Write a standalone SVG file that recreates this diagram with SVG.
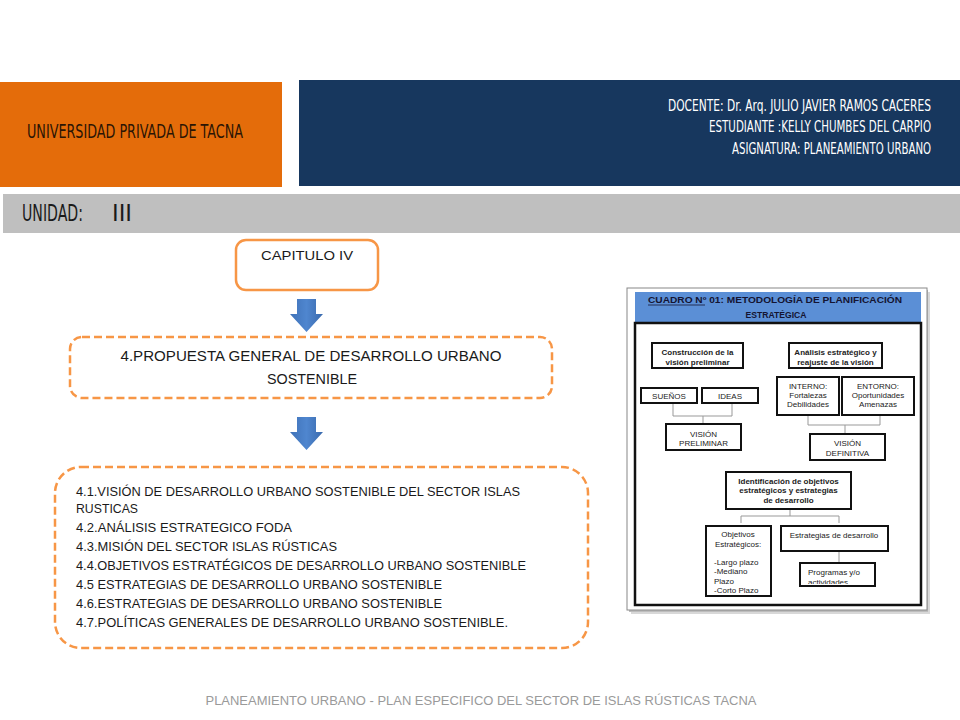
<svg xmlns="http://www.w3.org/2000/svg" width="960" height="720" viewBox="0 0 960 720">
<defs>
<linearGradient id="ag" x1="0" y1="0" x2="1" y2="0">
<stop offset="0" stop-color="#3f72b8"/><stop offset="0.5" stop-color="#4f86cf"/><stop offset="1" stop-color="#3a6aad"/>
</linearGradient>
<clipPath id="pc"><rect x="800" y="563" width="76" height="21"/></clipPath>
<style>
.cond{font-family:"DejaVu Sans Condensed","Liberation Sans Narrow","DejaVu Sans",sans-serif;font-stretch:condensed}
.cal{font-family:"Liberation Sans","Open Sans",sans-serif;fill:#1a1a1a}
.dash{fill:#fff;stroke:#F79646;stroke-width:2.5;stroke-dasharray:8 4}
.q{fill:#fff;stroke:#111;stroke-width:2}
.qt{font-family:"Liberation Sans",Arial,sans-serif;font-size:8px;fill:#222;text-anchor:middle}
.ql{font-family:"Liberation Sans",Arial,sans-serif;font-size:8px;fill:#222;text-anchor:start}
.qh{font-family:"Liberation Sans",Arial,sans-serif;font-size:8.6px;font-weight:bold;fill:#141432;text-anchor:middle}
.qb{font-weight:bold}
.br{fill:none;stroke:#999;stroke-width:1}
.arrow{fill:url(#ag)}
</style>
</defs>
<rect width="960" height="720" fill="#fff"/>

<g id="header">
<rect x="0" y="82" width="282" height="105" fill="#E46C0A"/>
<text class="cond" x="27" y="138" font-size="19" fill="#2b1505" textLength="216" lengthAdjust="spacingAndGlyphs">UNIVERSIDAD  PRIVADA  DE TACNA</text>
<rect x="299" y="80" width="661" height="106" fill="#17375E"/>
<g class="cond" fill="#fff" font-size="15">
<text x="668" y="111" textLength="263" lengthAdjust="spacingAndGlyphs">DOCENTE:  Dr.  Arq. JULIO  JAVIER  RAMOS  CACERES</text>
<text x="709" y="132" textLength="222" lengthAdjust="spacingAndGlyphs">ESTUDIANTE  :KELLY CHUMBES  DEL  CARPIO</text>
<text x="732" y="154" textLength="199" lengthAdjust="spacingAndGlyphs">ASIGNATURA:  PLANEAMIENTO  URBANO</text>
</g>
<rect x="3" y="194" width="957" height="39" fill="#BFBFBF"/>
<text class="cond" x="22" y="221" font-size="23" fill="#1a1a1a"><tspan textLength="61" lengthAdjust="spacingAndGlyphs">UNIDAD:</tspan><tspan x="112" textLength="20" lengthAdjust="spacingAndGlyphs" font-weight="300">III</tspan></text>
</g>

<g id="connectors">
<polygon class="arrow" points="297,299 316,299 316,314 323,314 306.5,332 290,314 297,314"/>
<polygon class="arrow" points="297,417 316,417 316,432 323,432 306.5,450 290,432 297,432"/>
</g>

<g id="capitulo">
<rect x="236" y="240" width="142" height="50" rx="10" fill="#fff" stroke="#F79646" stroke-width="2.5"/>
<text class="cal" x="307" y="260" font-size="12" text-anchor="middle" textLength="92" lengthAdjust="spacingAndGlyphs">CAPITULO IV</text>
</g>

<g id="propuesta">
<rect class="dash" x="70" y="337" width="482" height="61" rx="12"/>
<text class="cal" x="311" y="361" font-size="15" text-anchor="middle" textLength="381" lengthAdjust="spacingAndGlyphs">4.PROPUESTA GENERAL DE DESARROLLO URBANO</text>
<text class="cal" x="312" y="384" font-size="15" text-anchor="middle" textLength="90" lengthAdjust="spacingAndGlyphs">SOSTENIBLE</text>
</g>

<g id="contenido">
<rect class="dash" x="55" y="467" width="533" height="181" rx="26"/>
<g class="cal" font-size="13.5">
<text x="76" y="496" textLength="444" lengthAdjust="spacingAndGlyphs">4.1.VISIÓN DE DESARROLLO URBANO SOSTENIBLE DEL SECTOR ISLAS</text>
<text x="76" y="513" textLength="62" lengthAdjust="spacingAndGlyphs">RUSTICAS</text>
<text x="76" y="532" textLength="216" lengthAdjust="spacingAndGlyphs">4.2.ANÁLISIS ESTRATEGICO FODA</text>
<text x="76" y="551" textLength="261" lengthAdjust="spacingAndGlyphs">4.3.MISIÓN DEL SECTOR ISLAS RÚSTICAS</text>
<text x="76" y="570" textLength="450" lengthAdjust="spacingAndGlyphs">4.4.OBJETIVOS ESTRATÉGICOS DE DESARROLLO URBANO SOSTENIBLE</text>
<text x="76" y="589" textLength="366" lengthAdjust="spacingAndGlyphs">4.5 ESTRATEGIAS DE DESARROLLO URBANO SOSTENIBLE</text>
<text x="76" y="608" textLength="366" lengthAdjust="spacingAndGlyphs">4.6.ESTRATEGIAS DE DESARROLLO URBANO SOSTENIBLE</text>
<text x="76" y="627" textLength="432" lengthAdjust="spacingAndGlyphs">4.7.POLÍTICAS GENERALES DE DESARROLLO URBANO SOSTENIBLE.</text>
</g>
</g>

<g id="cuadro">
<rect x="631" y="292" width="299" height="322" fill="#d8d8d8"/>
<rect x="629" y="290" width="299" height="322" fill="#bdbdbd"/>
<rect x="627" y="288" width="300" height="322" fill="#fff" stroke="#888" stroke-width="1"/>
<rect x="635" y="292" width="286" height="31" fill="#5B8FD6"/>
<text class="qh" x="775" y="303" textLength="254" lengthAdjust="spacingAndGlyphs">CUADRO Nº 01: METODOLOGÍA DE PLANIFICACIÓN</text>
<line x1="648" y1="305" x2="705" y2="305" stroke="#141432" stroke-width="0.8"/>
<text class="qh" x="776" y="318">ESTRATÉGICA</text>
<rect x="635" y="323" width="286" height="282" fill="#fff" stroke="#111" stroke-width="2.5"/>

<path class="br" d="M673 403V416H732V403M703 416V424"/>
<path class="br" d="M808 415V425H880V415M845 425V434"/>
<path class="br" d="M790 509V516M741 523V516H839V523"/>
<path class="br" d="M839 551V563"/>

<rect class="q" x="652" y="343" width="91" height="25"/>
<text class="qt qb" x="697.5" y="355">Construcción de la</text>
<text class="qt qb" x="697.5" y="365">visión preliminar</text>

<rect class="q" x="789" y="343" width="93" height="25"/>
<text class="qt qb" x="835.5" y="355">Análisis estratégico y</text>
<text class="qt qb" x="835.5" y="365">reajuste de la visión</text>

<rect class="q" x="641" y="388" width="56" height="15"/>
<text class="qt" x="669" y="398.5">SUEÑOS</text>
<rect class="q" x="702" y="388" width="56" height="15"/>
<text class="qt" x="730" y="398.5">IDEAS</text>

<rect class="q" x="666" y="424" width="75" height="26"/>
<text class="qt" x="703.5" y="437">VISIÓN</text>
<text class="qt" x="703.5" y="446">PRELIMINAR</text>

<rect class="q" x="777" y="377" width="62" height="38"/>
<text class="qt" x="808" y="389">INTERNO:</text>
<text class="qt" x="808" y="398">Fortalezas</text>
<text class="qt" x="808" y="407">Debilidades</text>

<rect class="q" x="842" y="377" width="72" height="38"/>
<text class="qt" x="878" y="389">ENTORNO:</text>
<text class="qt" x="878" y="398">Oportunidades</text>
<text class="qt" x="878" y="407">Amenazas</text>

<rect class="q" x="810" y="434" width="75" height="26"/>
<text class="qt" x="847.5" y="446">VISIÓN</text>
<text class="qt" x="847.5" y="456">DEFINITIVA</text>

<rect class="q" x="726" y="472" width="125" height="37"/>
<text class="qt qb" x="788.5" y="484">Identificación de objetivos</text>
<text class="qt qb" x="788.5" y="493">estratégicos y estrategias</text>
<text class="qt qb" x="788.5" y="503">de desarrollo</text>

<rect class="q" x="706" y="526" width="65" height="70"/>
<text class="qt" x="738" y="537">Objetivos</text>
<text class="qt" x="738" y="547">Estratégicos:</text>
<text class="ql" x="714" y="565">-Largo plazo</text>
<text class="ql" x="714" y="574">-Mediano</text>
<text class="ql" x="714" y="584">Plazo</text>
<text class="ql" x="714" y="593">-Corto Plazo</text>

<rect class="q" x="781" y="526" width="107" height="25"/>
<text class="qt" x="834" y="538">Estrategias de desarrollo</text>

<rect class="q" x="800" y="563" width="75" height="23"/>
<text class="ql" x="808" y="575">Programas y/o</text>
<text class="ql" x="808" y="585" clip-path="url(#pc)">actividades</text>
</g>

<g id="footer">
<text x="481" y="705" font-family="Liberation Sans, Open Sans, sans-serif" font-size="13" fill="#9a9a9a" text-anchor="middle" textLength="551" lengthAdjust="spacingAndGlyphs">PLANEAMIENTO URBANO -  PLAN ESPECIFICO DEL SECTOR DE ISLAS RÚSTICAS TACNA</text>
</g>
</svg>
